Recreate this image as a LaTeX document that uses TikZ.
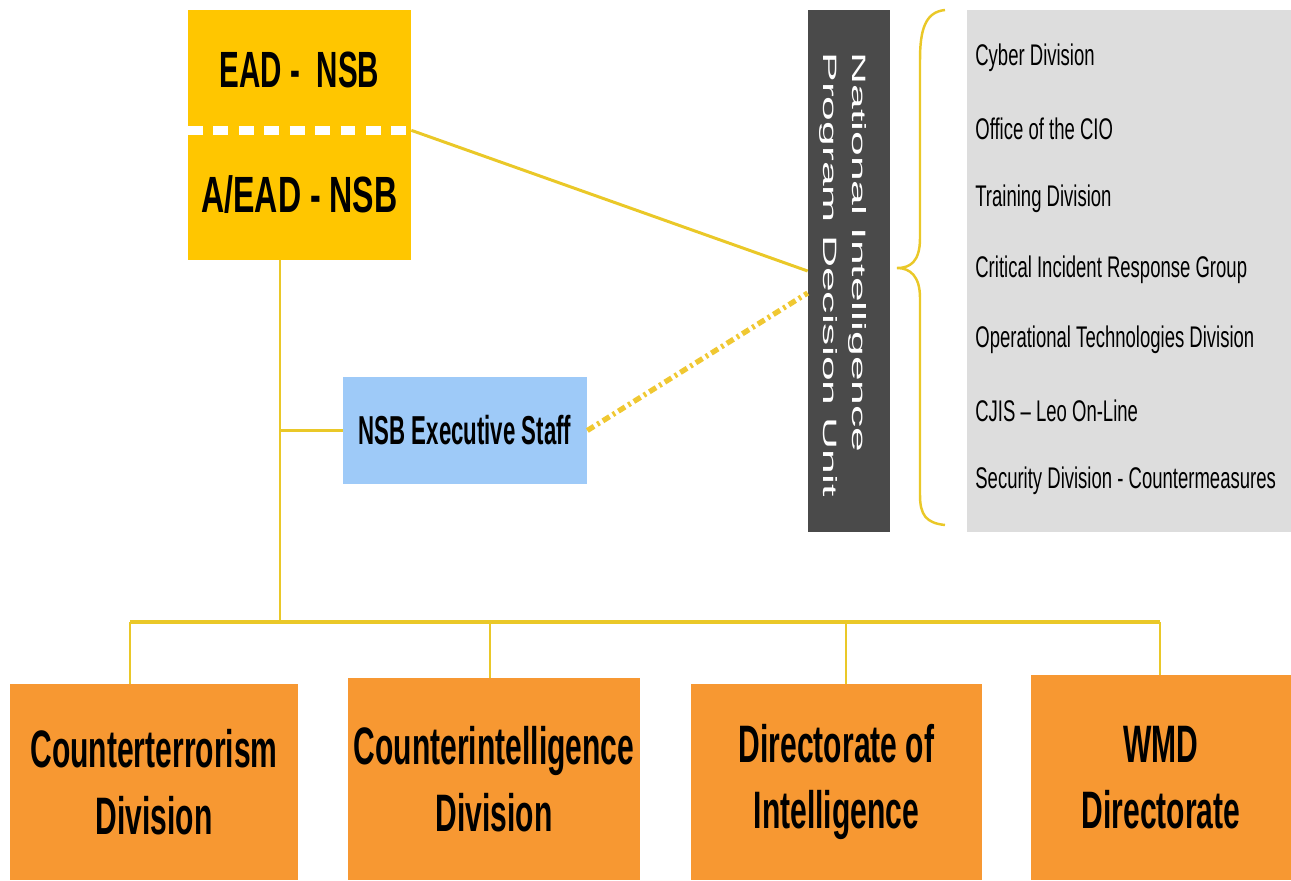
\documentclass[tikz,border=0pt]{standalone}
\usepackage{fontspec}
\setmainfont{Liberation Sans}
\newfontfamily\narrowbf[FakeStretch=0.55]{Liberation Sans}
\newfontfamily\topbf[FakeStretch=0.58]{Liberation Sans}
\newfontfamily\midbf[FakeStretch=0.63]{Liberation Sans}
\newfontfamily\divbf[FakeStretch=0.57]{Liberation Sans}
\newfontfamily\narrowrm[FakeStretch=0.62]{Liberation Sans}
\newfontfamily\widerm[FakeStretch=2.3]{Liberation Sans}
\usetikzlibrary{calc,positioning}
\definecolor{nsbgold}{RGB}{255,198,0}
\definecolor{linkyellow}{RGB}{234,200,40}
\definecolor{dotyellow}{RGB}{240,200,50}
\definecolor{unitgray}{RGB}{74,74,74}
\definecolor{listgray}{RGB}{221,221,221}
\definecolor{staffblue}{RGB}{158,202,248}
\definecolor{divorange}{RGB}{247,152,50}
\tikzstyle{goldbox}   = [fill=nsbgold, minimum width=4.46cm, inner sep=0pt, text=black]
\tikzstyle{divbox}    = [fill=divorange, inner sep=0pt, align=center, font=\divbf\bfseries\fontsize{30}{38}\selectfont]
\tikzstyle{link}      = [linkyellow, line width=1.7pt]
\tikzstyle{drop}      = [linkyellow, line width=1.1pt]
\tikzstyle{listitem}  = [anchor=west, inner sep=0pt, font=\narrowrm\fontsize{17}{20}\selectfont]

\begin{document}
\begin{tikzpicture}[x=0.02cm,y=-0.02cm]
        \useasboundingbox (0,0) rectangle (1291,880);

        \node[goldbox, minimum height=2.4cm, font=\topbf\bfseries\fontsize{29}{34}\selectfont] (ead) at (299.5,70) {EAD - \ NSB};
        \node[goldbox, minimum height=2.6cm, font=\midbf\bfseries\fontsize{29}{34}\selectfont] (aead) at (299.5,195) {A/EAD - NSB};
        \draw[white, line width=5pt, dash pattern=on 8.5pt off 6pt] (ead.south west) -- (ead.south east);

        \node[fill=unitgray, minimum width=1.64cm, minimum height=10.44cm, inner sep=0pt] (npdu) at (849,271) {};
        \node[rotate=-90, anchor=west, text=white, align=left, inner sep=0pt, font=\widerm\fontsize{11}{17}\selectfont] (npdutext) at (843,52) {National Intelligence\\Program Decision Unit};

        \node[fill=listgray, minimum width=6.48cm, minimum height=10.44cm, inner sep=0pt] (units) at (1129,271) {};
        \foreach \unitname [count=\i] in {Cyber Division, Office of the CIO, Training Division, Critical Incident Response Group, Operational Technologies Division, CJIS – Leo On-Line, Security Division - Countermeasures}
            \node[listitem] (unit\i) at (975,{58+70.5*(\i-1)}) {\unitname};

        \draw[linkyellow, line width=1.4pt] (945,10) .. controls (925,12) and (920,30) .. (920,60) -- (920,238)
            .. controls (920,262) and (910,268) .. (897,268) .. controls (910,268) and (920,276) .. (920,298)
            -- (920,495) .. controls (920,515) and (926,523) .. (945,525);

        \node[fill=staffblue, minimum width=4.88cm, minimum height=2.14cm, inner sep=0pt, font=\narrowbf\bfseries\fontsize{23}{28}\selectfont] (staff) at (465,430.5) {NSB Executive Staff};

        \node[divbox, minimum width=5.76cm, minimum height=3.92cm] (ct) at (154,782) {Counterterrorism\\Division};
        \node[divbox, minimum width=5.84cm, minimum height=4.04cm] (ci) at (494,779) {Counterintelligence\\Division};
        \node[divbox, minimum width=5.82cm, minimum height=3.92cm] (doi) at (836.5,782) {Directorate of\\Intelligence};
        \node[divbox, minimum width=5.2cm, minimum height=4.1cm] (wmd) at (1161,777.5) {WMD\\Directorate};

        \draw[link] (ead.south east) -- (npdu.west);
        \draw[dotyellow, line width=3pt, dash pattern=on 4.5pt off 2.2pt on 1.5pt off 2.2pt] (staff.east) -- ($(npdu.west)+(0,22)$);

        \coordinate (trunk) at (280,622);
        \coordinate (ctdrop) at ([xshift=-0.48cm]ct.north);
        \coordinate (cidrop) at ([xshift=-0.08cm]ci.north);
        \coordinate (doidrop) at ([xshift=0.19cm]doi.north);
        \coordinate (wmddrop) at ([xshift=-0.02cm]wmd.north);
        \draw[link] (aead.south -| trunk) -- (trunk);
        \draw[link] (staff.west) -- (staff.west -| trunk);
        \draw[link, line width=2.2pt] (ctdrop |- trunk) -- (wmddrop |- trunk);
        \draw[drop] (ctdrop |- trunk) -- (ctdrop);
        \draw[drop] (cidrop |- trunk) -- (cidrop);
        \draw[drop] (doidrop |- trunk) -- (doidrop);
        \draw[drop] (wmddrop |- trunk) -- (wmddrop);
    \end{tikzpicture}
\end{document}
